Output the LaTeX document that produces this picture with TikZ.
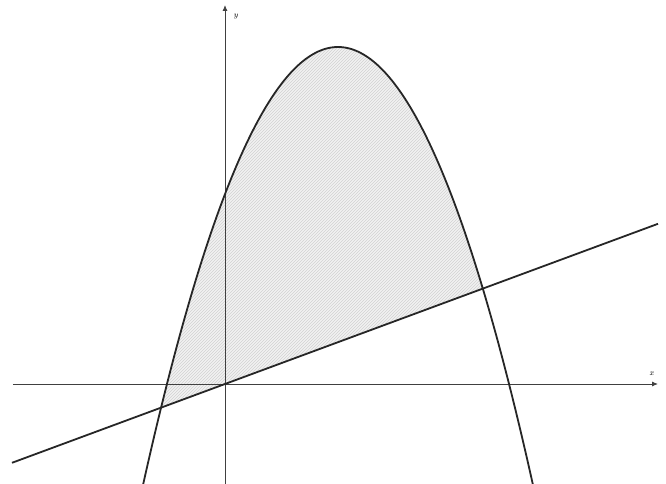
\documentclass[tikz,border=0pt]{standalone}
\usetikzlibrary{patterns,arrows.meta}
\begin{document}
\begin{tikzpicture}[x=1pt,y=1pt,
  axis/.style={line width=0.9pt,draw=black!75,-{Latex[length=6pt,width=5pt]}},
  curve/.style={line width=1.8pt,black!85},
  region/.style={fill=gray!10},
  lbl/.style={font=\footnotesize,inner sep=1pt}]
\useasboundingbox (-225,-100) rectangle (441,384);
\coordinate (O) at (0,0);
\coordinate (xs) at (-212,0);
\coordinate (xe) at (433,0);
\coordinate (ys) at (0,-100);
\coordinate (ye) at (0,379);
\coordinate (ls) at (-213,-78.8);
\coordinate (le) at (433,160.2);
% shaded region
\fill[region] plot[domain=-63.9:257.8,samples=120] (\x,{337-1.152*((\x-113)/10)^2}) -- cycle;
\fill[pattern=north east lines,pattern color=gray!35] plot[domain=-63.9:257.8,samples=120] (\x,{337-1.152*((\x-113)/10)^2}) -- cycle;
% axes
\draw[axis] (xs) -- (xe);
\draw[axis] (ys) -- (ye);
\node[lbl] (xl) at (427,10) {$x$};
\node[lbl] (yl) at (11,367) {$y$};
% parabola
\draw[curve] plot[domain=-81.8:307.8,samples=150] (\x,{337-1.152*((\x-113)/10)^2});
% line
\draw[curve] (ls) -- (le);
\end{tikzpicture}
\end{document}
